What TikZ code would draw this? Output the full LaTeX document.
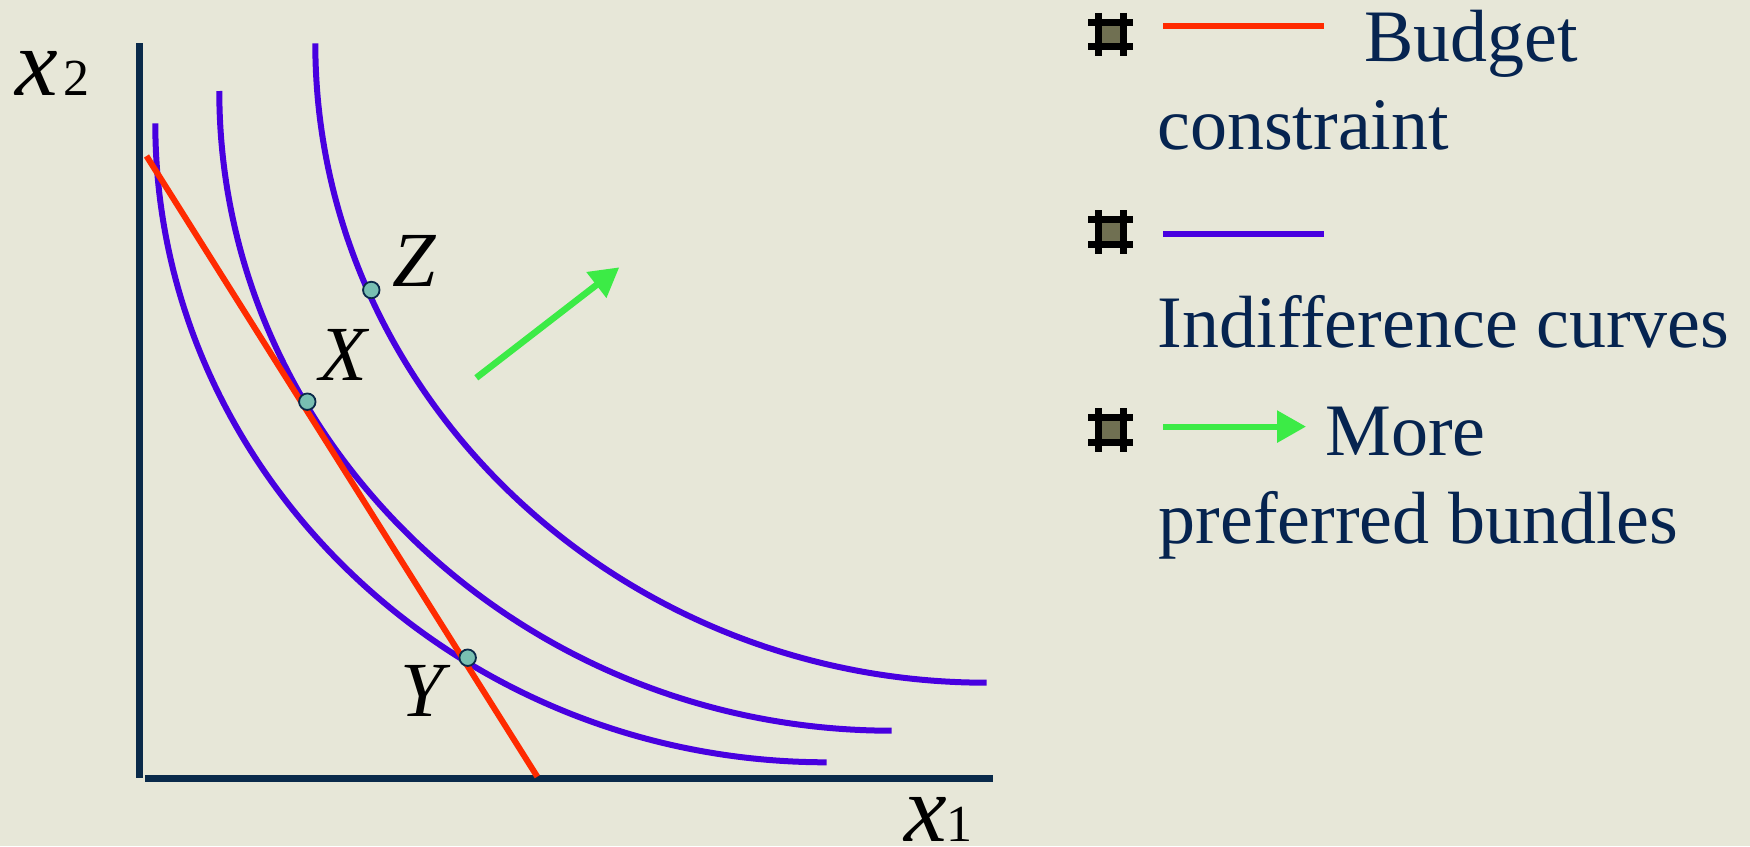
\documentclass[tikz,border=0pt]{standalone}
\usepackage{fontspec}
\setmainfont{Liberation Serif}
\usepackage{xcolor}
\definecolor{paper}{HTML}{E7E7D8}
\definecolor{navy}{HTML}{0A2A4A}
\definecolor{ink}{HTML}{062450}
\definecolor{budgetred}{HTML}{FF2A00}
\definecolor{icblue}{HTML}{4800E0}
\definecolor{prefgreen}{HTML}{3CEB46}
\definecolor{dotteal}{HTML}{78BFB2}
\definecolor{bulletfill}{HTML}{707052}
\usepackage{tikz}
\usetikzlibrary{arrows.meta}
\tikzset{
    axis/.style={draw=navy, line width=6.5pt},
    budget/.style={draw=budgetred, line width=6pt},
    indiff/.style={draw=icblue, line width=6pt},
    prefarrow/.style={draw=prefgreen, line width=6.5pt, -{Triangle[length=29pt,width=31pt]}},
    bundle/.style={circle, fill=dotteal, draw=navy, line width=1.8pt, minimum size=16.5pt, inner sep=0pt},
    ptlabel/.style={font=\fontsize{78}{78}\selectfont\itshape, inner sep=0pt, anchor=base west},
    axlabel/.style={inner sep=0pt, anchor=base west},
    legtext/.style={font=\fontsize{74}{74}\selectfont, text=ink, inner sep=0pt, anchor=base west},
    hashmark/.pic={
        \fill[bulletfill] (-10,-10) rectangle (10,10);
        \draw[line width=6.7pt] (-22.5,-12.2) -- (22.5,-12.2) (-22.5,12.2) -- (22.5,12.2)
                                (-12.5,-21.7) -- (-12.5,21.7) (12.5,-21.7) -- (12.5,21.7);
    }
}

\begin{document}
\begin{tikzpicture}[x=1pt, y=-1pt]
  % Page and background
  \useasboundingbox (0,0) rectangle (1750,846);
  \fill[paper] (0,0) rectangle (1750,846);

  % Axes
  \coordinate (ytop) at (139.5,43);
  \coordinate (origin) at (139.5,778);
  \coordinate (xleft) at (145,778.5);
  \coordinate (xright) at (993,778.5);
  \draw[axis] (ytop) -- (origin);
  \draw[axis] (xleft) -- (xright);
  \node[axlabel] (xtwo) at (15,95) {{\fontsize{96}{96}\selectfont\itshape x}\kern6pt{\fontsize{52}{52}\selectfont 2}};
  \node[axlabel] (xone) at (904,841.7) {{\fontsize{96}{96}\selectfont\itshape x}{\fontsize{52}{52}\selectfont 1}};

  % Indifference curves
  \draw[indiff] (155.3,123.3) .. controls (155.3,474.8) and (457.4,762.3) .. (826.7,762.3);
  \draw[indiff] (219.3,91) .. controls (219.3,442.8) and (521.9,730.7) .. (891.7,730.7);
  \draw[indiff] (315.3,43.3) .. controls (315.3,395) and (617.4,682.7) .. (986.7,682.7);

  % Budget constraint
  \coordinate (btop) at (146.5,156);
  \coordinate (bend) at (537.3,776.7);
  \draw[budget] (btop) -- (bend);

  % Bundles
  \node[bundle] (Z) at (371.3,290) {};
  \node[bundle] (X) at (307.3,401.7) {};
  \node[bundle] (Y) at (467.7,657.7) {};
  \node[ptlabel] (Zlab) at (392,286) {Z};
  \node[ptlabel] (Xlab) at (319.5,380.7) {X};
  \node[ptlabel] (Ylab) at (400.5,716.7) {Y};

  % Direction of preference
  \coordinate (prefA) at (476.3,377.8);
  \coordinate (prefB) at (619.3,267.3);
  \draw[prefarrow] (prefA) -- (prefB);

  % Legend
  \pic at (1110.8,34.5) {hashmark};
  \pic at (1110.8,232) {hashmark};
  \pic at (1110.8,430) {hashmark};
  \coordinate (legredA) at (1163,25.9);
  \coordinate (legredB) at (1324,25.9);
  \draw[budget] (legredA) -- (legredB);
  \coordinate (legblueA) at (1163,233.8);
  \coordinate (legblueB) at (1324,233.8);
  \draw[indiff] (legblueA) -- (legblueB);
  \coordinate (leggreenA) at (1163,426.6);
  \coordinate (leggreenB) at (1306,426.6);
  \draw[prefarrow, line width=6pt] (leggreenA) -- (leggreenB);
  \node[legtext] (budget1) at (1364,61) {Budget};
  \node[legtext] (budget2) at (1157,149.8) {constraint};
  \node[legtext] (indiff1) at (1157.6,347.8) {Indifference curves};
  \node[legtext] (pref1) at (1325,455) {More};
  \node[legtext] (pref2) at (1158.5,543.8) {preferred bundles};
\end{tikzpicture}
\end{document}
